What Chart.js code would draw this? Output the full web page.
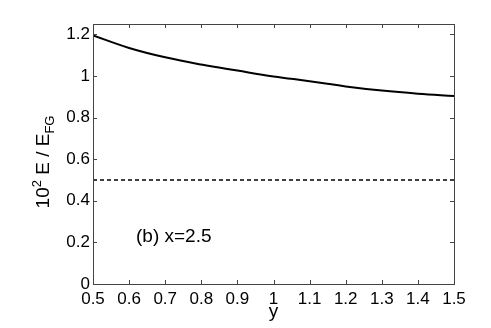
<!DOCTYPE html>
<html>
<head>
    <script src="https://cdn.jsdelivr.net/npm/chart.js"></script>
    <style>
        body { margin: 0; background: white; }
        #wrap { width: 491px; height: 328px; }
    </style>
</head>
<body>
<div id="wrap"><canvas id="c" width="491" height="328"></canvas></div>
<script>
    // data
    const yValues = [0.5, 0.6, 0.7, 0.8, 0.9, 1.0, 1.1, 1.2, 1.3, 1.4, 1.5];
    const energy = [1.195, 1.135, 1.09, 1.055, 1.026, 0.998, 0.975, 0.95, 0.93, 0.915, 0.904];
    const reference = [0.5, 0.5, 0.5, 0.5, 0.5, 0.5, 0.5, 0.5, 0.5, 0.5, 0.5];
    const yTicks = [0, 0.2, 0.4, 0.6, 0.8, 1, 1.2];
    const panelLabel = '(b) x=2.5';

    const FONT = 'Liberation Sans, Arial, Helvetica, sans-serif';
    const fmt = v => String(parseFloat(Number(v).toFixed(2)));

    // matlab style box, inward ticks and axis titles
    const matlabBox = {
        id: 'matlabBox',
        afterDraw(chart) {
            const ctx = chart.ctx, a = chart.chartArea;
            const xs = chart.scales.x, ys = chart.scales.y;
            ctx.save();
            ctx.strokeStyle = '#444';
            ctx.lineWidth = 1;
            ctx.strokeRect(Math.round(a.left) + 0.5, Math.round(a.top) + 0.5,
                Math.round(a.right - a.left), Math.round(a.bottom - a.top));
            const tl = 4;
            ctx.beginPath();
            xs.ticks.forEach(t => {
                const px = Math.round(xs.getPixelForValue(t.value)) + 0.5;
                ctx.moveTo(px, a.bottom); ctx.lineTo(px, a.bottom - tl);
                ctx.moveTo(px, a.top); ctx.lineTo(px, a.top + tl);
            });
            ys.ticks.forEach(t => {
                const py = Math.round(ys.getPixelForValue(t.value)) + 0.5;
                ctx.moveTo(a.left, py); ctx.lineTo(a.left + tl, py);
                ctx.moveTo(a.right, py); ctx.lineTo(a.right - tl, py);
            });
            ctx.stroke();

            ctx.fillStyle = '#000';
            // panel label
            ctx.font = '19px ' + FONT;
            ctx.textAlign = 'left';
            ctx.textBaseline = 'alphabetic';
            ctx.fillText(panelLabel, 136, 242);

            // x title
            ctx.textAlign = 'center';
            ctx.fillText('y', (a.left + a.right) / 2, 317);

            // y title with super and subscript
            ctx.translate(49, 162);
            ctx.rotate(-Math.PI / 2);
            const big = '19px ' + FONT, small = '13px ' + FONT;
            const parts = [
                { t: '10', f: big, dy: 0 },
                { t: '2', f: small, dy: -8 },
                { t: ' E / E', f: big, dy: 0 },
                { t: 'FG', f: small, dy: 5 }
            ];
            let total = 0;
            parts.forEach(p => { ctx.font = p.f; p.w = ctx.measureText(p.t).width; total += p.w; });
            let x = -total / 2;
            ctx.textAlign = 'left';
            parts.forEach(p => { ctx.font = p.f; ctx.fillText(p.t, x, p.dy); x += p.w; });
            ctx.restore();
        }
    };

    new Chart(document.getElementById('c'), {
        type: 'line',
        data: {
            datasets: [{
                data: yValues.map((v, i) => ({ x: v, y: energy[i] })),
                borderColor: '#000',
                borderWidth: 2,
                pointRadius: 0,
                tension: 0.4,
                fill: false
            }, {
                data: yValues.map((v, i) => ({ x: v, y: reference[i] })),
                borderColor: '#000',
                borderWidth: 1.5,
                borderDash: [4, 3],
                pointRadius: 0,
                fill: false
            }]
        },
        options: {
            responsive: false,
            animation: false,
            layout: { padding: { left: 0, top: 24, right: 37, bottom: 0 } },
            plugins: { legend: { display: false }, tooltip: { enabled: false } },
            scales: {
                x: {
                    type: 'linear',
                    min: 0.5, max: 1.5,
                    grid: { display: false, drawTicks: false },
                    border: { display: false },
                    ticks: { stepSize: 0.1, color: '#000', padding: 5, maxRotation: 0,
                        font: { size: 17, family: FONT }, callback: fmt },
                    afterFit: s => { s.height = 44; }
                },
                y: {
                    min: 0, max: 1.25,
                    grid: { display: false, drawTicks: false },
                    border: { display: false },
                    ticks: { color: '#000', padding: 3,
                        font: { size: 17, family: FONT }, callback: fmt },
                    afterBuildTicks: s => { s.ticks = yTicks.map(v => ({ value: v })); },
                    afterFit: s => { s.width = 93; }
                }
            }
        },
        plugins: [matlabBox]
    });
</script>
</body>
</html>
